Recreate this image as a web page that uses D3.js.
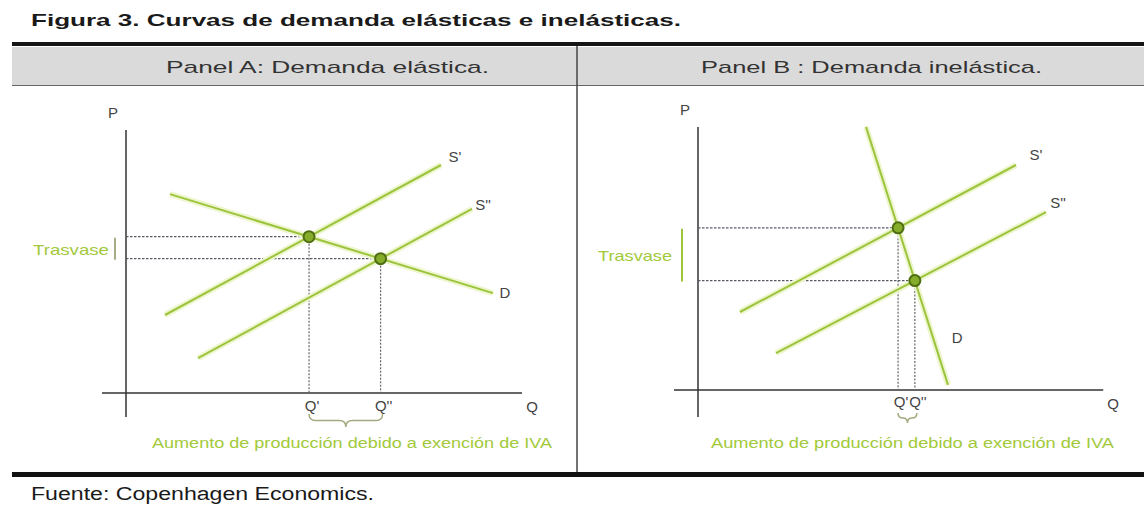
<!DOCTYPE html>
<html><head><meta charset="utf-8">
<script src="https://cdn.jsdelivr.net/npm/d3@7"></script>
<style>body{margin:0;background:#fff}svg{display:block}text{font-family:Arial,"Liberation Sans",sans-serif}</style>
</head><body><svg id="c" width="1144" height="506"></svg>
<script>
// ---------- data ----------
const title = "Figura 3. Curvas de demanda elásticas e inelásticas.";
const source = "Fuente: Copenhagen Economics.";
const panelTitles = ["Panel A: Demanda elástica.", "Panel B : Demanda inelástica."];
const curveNames = ["S'", "S''", "D"];
const axisNames = ["P", "Q"];
const qNames = ["Q'", "Q''"];
const note = "Aumento de producción debido a exención de IVA";
const transferName = "Trasvase";
// curves as [Q,P] end points (abstract units)
const supply1A = [[9.75, 26], [78.75, 76]];
const supply2A = [[18, 11.6], [86.5, 61.4]];
const demandA  = [[11, 66.3], [91.75, 33.3]];
const supply1B = [[10.5, 26], [79.5, 75]];
const supply2B = [[19.5, 12.3], [87, 59.3]];
const demandB  = [[42, 87.7], [62.5, 1.7]];
const qAxisA = [-6, 99],   pAxisA = [-8, 87.7];
const qAxisB = [-6, 101.3], pAxisB = [-9, 87.7];

// ---------- layout ----------
const svg = d3.select("#c");
const green = "#9cc43c", greenText = "#a2c93a", dark = "#3a3a3a";

function intersect(a, b) {
  const [x1, y1] = a[0], [x2, y2] = a[1], [x3, y3] = b[0], [x4, y4] = b[1];
  const d = (x1 - x2) * (y3 - y4) - (y1 - y2) * (x3 - x4);
  const t = ((x1 - x3) * (y3 - y4) - (y1 - y3) * (x3 - x4)) / d;
  return [x1 + t * (x2 - x1), y1 + t * (y2 - y1)];
}

// frame
svg.append("rect").attr("x", 12).attr("y", 47).attr("width", 1132).attr("height", 38).attr("fill", "#dadada");
svg.append("rect").attr("x", 12).attr("y", 42).attr("width", 1132).attr("height", 4).attr("fill", "#151515");
svg.append("line").attr("x1", 12).attr("x2", 1144).attr("y1", 85.5).attr("y2", 85.5).attr("stroke", "#666").attr("stroke-width", 1);
svg.append("line").attr("x1", 577).attr("x2", 577).attr("y1", 46).attr("y2", 472).attr("stroke", "#444").attr("stroke-width", 1.5);
svg.append("rect").attr("x", 12).attr("y", 472).attr("width", 1132).attr("height", 5).attr("fill", "#111");

function txt(s, x, y, size, len, opts = {}) {
  const t = svg.append("text").attr("x", x).attr("y", y).attr("font-size", size)
    .attr("fill", opts.fill || dark).attr("font-weight", opts.bold ? "bold" : null).text(s);
  if (len) t.attr("textLength", len).attr("lengthAdjust", "spacingAndGlyphs");
  if (opts.anchor) t.attr("text-anchor", opts.anchor);
  return t;
}
txt(title, 31, 26, 17, 650, {bold: true, fill: "#1a1a1a"});
txt(source, 31, 500, 18, 343, {fill: "#1a1a1a"});
txt(panelTitles[0], 166, 73, 17, 323, {fill: "#333"});
txt(panelTitles[1], 701, 73, 17, 341, {fill: "#333"});

const panels = [
  {ox: 126, oy: 393, s1: supply1A, s2: supply2A, d: demandA, qa: qAxisA, pa: pAxisA,
   off: [[14, -8], [11, -4], [12, 0]], dLabelAtEnd: true,
   trX: 115, trColor: "#a6ad86", trTextEnd: 109, noteX: 152, noteLen: 400, qLabelDy: 18, braceY: 414, braceH: 13},
  {ox: 698, oy: 390, s1: supply1B, s2: supply2B, d: demandB, qa: qAxisB, pa: pAxisB,
   off: [[20, -10], [12, -9], [24, 0]], dLabelAtEnd: false,
   trX: 682, trColor: green, trTextEnd: 672, noteX: 711, noteLen: 403, qLabelDy: 17, braceY: 413, braceH: 10}
];

panels.forEach((p, i) => {
  const x = d3.scaleLinear().domain([0, 100]).range([p.ox, p.ox + 400]);
  const y = d3.scaleLinear().domain([0, 100]).range([p.oy, p.oy - 300]);
  const g = svg.append("g");
  const line = d3.line().x(d => x(d[0])).y(d => y(d[1]));
  // axes
  g.append("line").attr("x1", x(0)).attr("x2", x(0)).attr("y1", y(p.pa[0])).attr("y2", y(p.pa[1]))
    .attr("stroke", "#333").attr("stroke-width", 1.5);
  g.append("line").attr("x1", x(p.qa[0])).attr("x2", x(p.qa[1])).attr("y1", y(0)).attr("y2", y(0))
    .attr("stroke", "#333").attr("stroke-width", 1.5);
  txt(axisNames[0], x(0) - 13, y(p.pa[1]) - 12, 15, null, {anchor: "middle", fill: "#444"});
  txt(axisNames[1], x(p.qa[1]) + 10, y(0) + 19, 15, null, {anchor: "middle", fill: "#444"});

  const e1 = intersect(p.s1, p.d), e2 = intersect(p.s2, p.d);
  // dashed guides
  [e1, e2].forEach(e => {
    g.append("line").attr("x1", x(0)).attr("x2", x(e[0])).attr("y1", y(e[1])).attr("y2", y(e[1]))
      .attr("stroke", "#5a5a66").attr("stroke-width", 1.2).attr("stroke-dasharray", "2.5,1.5");
    g.append("line").attr("x1", x(e[0])).attr("x2", x(e[0])).attr("y1", y(e[1])).attr("y2", y(0))
      .attr("stroke", "#666").attr("stroke-width", 1.2).attr("stroke-dasharray", "2,1.5");
  });
  // curves with halo
  const curves = [p.s1, p.s2, p.d];
  curves.forEach(c => {
    g.append("path").attr("d", line(c)).attr("stroke", "#eef6cf").attr("stroke-width", 6).attr("fill", "none");
  });
  curves.forEach(c => {
    g.append("path").attr("d", line(c)).attr("stroke", green).attr("stroke-width", 2).attr("fill", "none");
  });
  // curve labels
  curves.forEach((c, k) => {
    let px = x(c[1][0]), py = y(c[1][1]);
    if (k === 2 && !p.dLabelAtEnd) {
      const pv = 17.3, t = (pv - c[0][1]) / (c[1][1] - c[0][1]);
      px = x(c[0][0] + t * (c[1][0] - c[0][0])); py = y(pv);
    }
    txt(curveNames[k], px + p.off[k][0], py + p.off[k][1], 15, null, {anchor: "middle", fill: "#444"})
      .attr("dy", "0.35em");
  });
  // equilibrium points
  [e1, e2].forEach(e => {
    g.append("circle").attr("cx", x(e[0])).attr("cy", y(e[1])).attr("r", 5.5)
      .attr("fill", "#86ad2a").attr("stroke", "#4f6d12").attr("stroke-width", 2);
  });
  // Q labels
  [e1, e2].forEach((e, k) => {
    txt(qNames[k], x(e[0]) + 3, y(0) + p.qLabelDy, 15, null, {anchor: "middle", fill: "#444"});
  });
  // brace
  const b1 = x(e1[0]), b2 = x(e2[0]) + 2, by = p.braceY, h = p.braceH, m = (b1 + b2) / 2, r = Math.min(h / 2, (b2 - b1) / 4);
  g.append("path").attr("fill", "none").attr("stroke", "#a3aa80").attr("stroke-width", 1.5)
    .attr("d", `M${b1},${by} Q${b1},${by + h / 2} ${b1 + r},${by + h / 2} L${m - r},${by + h / 2} Q${m},${by + h / 2} ${m},${by + h} Q${m},${by + h / 2} ${m + r},${by + h / 2} L${b2 - r},${by + h / 2} Q${b2},${by + h / 2} ${b2},${by}`);
  txt(note, p.noteX, 448, 14, p.noteLen, {fill: greenText});
  // transfer bracket
  g.append("line").attr("x1", p.trX).attr("x2", p.trX).attr("y1", y(e1[1]) + 1).attr("y2", y(e2[1]) + 1)
    .attr("stroke", p.trColor).attr("stroke-width", 2);
  const tw = i === 0 ? 76 : 74;
  txt(transferName, p.trTextEnd - tw, (y(e1[1]) + y(e2[1])) / 2 + 2, 15, tw, {fill: greenText}).attr("dy", "0.35em");
});
</script></body></html>
